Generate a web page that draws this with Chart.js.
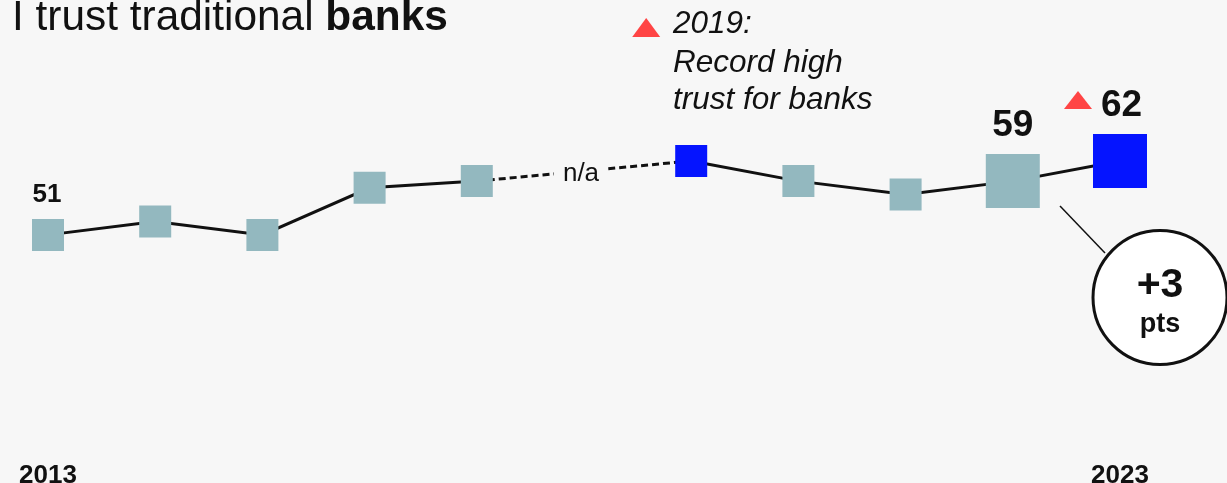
<!DOCTYPE html>
<html>
<head>
<meta charset="utf-8">
<script src="https://cdn.jsdelivr.net/npm/chart.js@4/dist/chart.umd.min.js"></script>
<style>
  html, body { margin: 0; padding: 0; background: #f7f7f7; overflow: hidden; }
  #wrap { width: 1227px; height: 483px; position: relative; }
  canvas { display: block; }
</style>
</head>
<body>
<div id="wrap"><canvas id="c" width="1227" height="483"></canvas></div>
<script>
// ---- data ----
const years = ['2013','2014','2015','2016','2017','2018','2019','2020','2021','2022','2023'];
const trust = [51, 53, 51, 58, 59, null, 62, 59, 57, 59, 62];
const gapBridge = [null, null, null, null, 59, null, 62, null, null, null, null];
const recordYears = ['2019', '2023'];
const bigYears = ['2022', '2023'];
const axisLabelYears = ['2013', '2023'];
const missingYear = '2018';
const titleRegular = 'I trust traditional ';
const titleBold = 'banks';
const noteLines = ['2019:', 'Record high', 'trust for banks'];
const changeValue = '+3';
const changeUnit = 'pts';

// ---- styles ----
const FONT = "'Liberation Sans', Arial, Helvetica, sans-serif";
const TEAL = '#93b8bf';
const BLUE = '#0514ff';
const RED = '#ff4444';
const INK = '#111111';
const SMALL = 32, BIG = 54;

const pointColors = years.map(y => recordYears.includes(y) ? BLUE : TEAL);
const pointRadii = years.map(y => (bigYears.includes(y) ? BIG : SMALL) / Math.SQRT2);

function triangle(ctx, cx, by, w, h) {
  ctx.beginPath();
  ctx.moveTo(cx - w / 2, by);
  ctx.lineTo(cx + w / 2, by);
  ctx.lineTo(cx, by - h);
  ctx.closePath();
  ctx.fillStyle = RED;
  ctx.fill();
}

const decor = {
  id: 'decor',
  afterDatasetsDraw(chart) {
    const ctx = chart.ctx;
    const xs = chart.scales.x, ys = chart.scales.y;
    const X = y => xs.getPixelForValue(years.indexOf(y));
    const Y = y => ys.getPixelForValue(trust[years.indexOf(y)]);
    ctx.save();
    ctx.textBaseline = 'alphabetic';

    // title
    ctx.fillStyle = INK;
    ctx.textAlign = 'left';
    ctx.font = `42.4px ${FONT}`;
    ctx.fillText(titleRegular, 12, 30);
    const w = ctx.measureText(titleRegular).width;
    ctx.font = `bold 42.4px ${FONT}`;
    ctx.fillText(titleBold, 12 + w, 30);

    // n/a label over the dashed bridge
    const i0 = years.indexOf(missingYear);
    const nx = xs.getPixelForValue(i0) - 3;
    const ny = (Y('2017') + Y('2019')) / 2;
    ctx.font = `26px ${FONT}`;
    const nw = ctx.measureText('n/a').width;
    ctx.fillStyle = '#f7f7f7';
    ctx.fillRect(nx - nw / 2 - 9, ny - 14, nw + 18, 26);
    ctx.fillStyle = INK;
    ctx.textAlign = 'center';
    ctx.fillText('n/a', nx, ny + 10);

    // value labels
    ctx.font = `bold 26px ${FONT}`;
    ctx.fillText(String(trust[0]), X('2013') - 1, Y('2013') - 33);
    ctx.font = `bold 37px ${FONT}`;
    ctx.fillText(String(trust[9]), X('2022'), Y('2022') - 45);
    ctx.textAlign = 'left';
    ctx.fillText(String(trust[10]), X('2023') - 19, Y('2023') - 45);
    triangle(ctx, X('2023') - 42, Y('2023') - 52, 28, 18);

    // note
    triangle(ctx, X('2019') - 45, 37, 28, 19);
    ctx.font = `italic 31.5px ${FONT}`;
    ctx.fillStyle = INK;
    ctx.fillText(noteLines[0], 673, 33);
    ctx.fillText(noteLines[1], 673, 72);
    ctx.fillText(noteLines[2], 673, 109);

    // axis year labels
    ctx.textAlign = 'center';
    ctx.font = `bold 26px ${FONT}`;
    axisLabelYears.forEach(y => ctx.fillText(y, X(y), 483));

    // callout
    const cx = 1160, cy = 297.5, r = 67;
    ctx.strokeStyle = INK;
    ctx.lineWidth = 1.5;
    ctx.beginPath();
    ctx.moveTo(1060, 206);
    ctx.lineTo(1105, 253);
    ctx.stroke();
    ctx.beginPath();
    ctx.arc(cx, cy, r, 0, Math.PI * 2);
    ctx.fillStyle = '#ffffff';
    ctx.fill();
    ctx.lineWidth = 3;
    ctx.stroke();
    ctx.fillStyle = INK;
    ctx.font = `bold 41px ${FONT}`;
    ctx.fillText(changeValue, cx, 297);
    ctx.font = `bold 27px ${FONT}`;
    ctx.fillText(changeUnit, cx, 332);
    ctx.restore();
  }
};

new Chart(document.getElementById('c'), {
  type: 'line',
  data: {
    labels: years,
    datasets: [
      {
        data: trust,
        order: 0,
        borderColor: INK,
        borderWidth: 3,
        spanGaps: false,
        pointStyle: 'rect',
        pointRadius: pointRadii,
        pointBackgroundColor: pointColors,
        pointBorderWidth: 0,
        pointBorderColor: pointColors,
        clip: false,
        tension: 0
      },
      {
        data: gapBridge,
        order: 1,
        borderColor: INK,
        borderWidth: 3,
        borderDash: [7, 4],
        spanGaps: true,
        pointRadius: 0,
        clip: false,
        tension: 0
      }
    ]
  },
  options: {
    responsive: false,
    devicePixelRatio: 1,
    animation: false,
    events: [],
    layout: { padding: { left: 48, right: 107, top: 40, bottom: 107 } },
    plugins: { legend: { display: false }, tooltip: { enabled: false } },
    scales: {
      x: { type: 'category', display: false, offset: false },
      y: { type: 'linear', display: false, min: 30, max: 80 }
    }
  },
  plugins: [decor]
});
</script>
</body>
</html>
